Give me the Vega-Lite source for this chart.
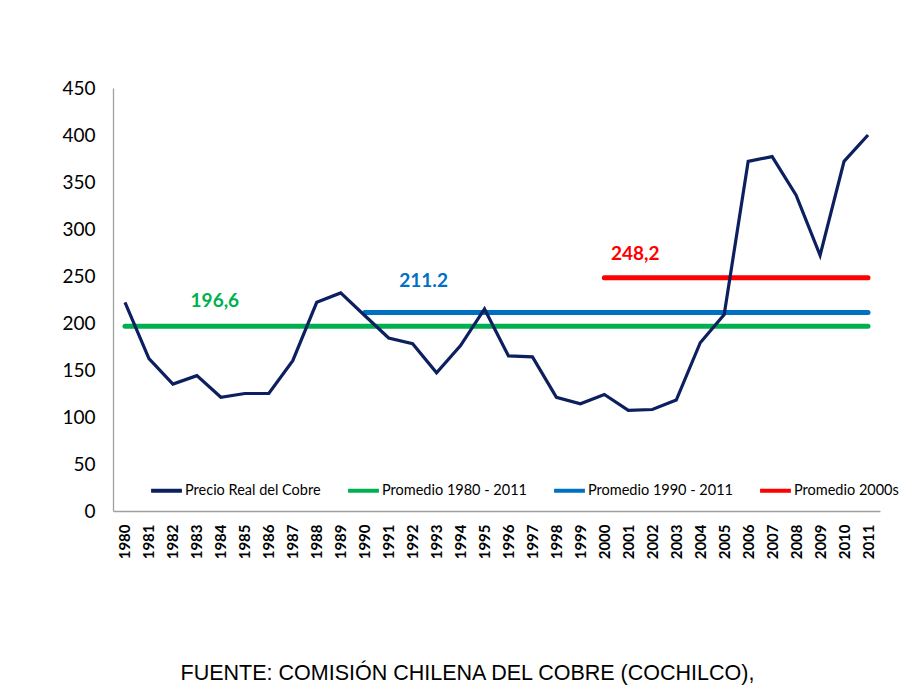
{
  "$schema": "https://vega.github.io/schema/vega-lite/v6.json",
  "autosize": {"type": "none"},
  "padding": {"left": 113, "top": 88, "right": 32, "bottom": 183},
  "width": 767,
  "height": 423,
  "background": "white",
  "config": {"view": {"stroke": null}, "font": "Lato"},
  "title": {
    "text": "FUENTE: COMISIÓN CHILENA DEL COBRE (COCHILCO),",
    "orient": "bottom",
    "anchor": "middle",
    "font": "Liberation Sans",
    "fontSize": 21.5,
    "fontWeight": "normal",
    "color": "#000000",
    "offset": 104,
    "dx": -29
  },
  "datasets": {
    "precio": [
      {"year": "1980", "value": 222, "series": "Precio Real del Cobre"},
      {"year": "1981", "value": 162, "series": "Precio Real del Cobre"},
      {"year": "1982", "value": 135, "series": "Precio Real del Cobre"},
      {"year": "1983", "value": 144, "series": "Precio Real del Cobre"},
      {"year": "1984", "value": 121, "series": "Precio Real del Cobre"},
      {"year": "1985", "value": 125, "series": "Precio Real del Cobre"},
      {"year": "1986", "value": 125, "series": "Precio Real del Cobre"},
      {"year": "1987", "value": 160, "series": "Precio Real del Cobre"},
      {"year": "1988", "value": 222, "series": "Precio Real del Cobre"},
      {"year": "1989", "value": 232, "series": "Precio Real del Cobre"},
      {"year": "1990", "value": 208, "series": "Precio Real del Cobre"},
      {"year": "1991", "value": 184, "series": "Precio Real del Cobre"},
      {"year": "1992", "value": 178, "series": "Precio Real del Cobre"},
      {"year": "1993", "value": 147, "series": "Precio Real del Cobre"},
      {"year": "1994", "value": 176, "series": "Precio Real del Cobre"},
      {"year": "1995", "value": 215, "series": "Precio Real del Cobre"},
      {"year": "1996", "value": 165, "series": "Precio Real del Cobre"},
      {"year": "1997", "value": 164, "series": "Precio Real del Cobre"},
      {"year": "1998", "value": 121, "series": "Precio Real del Cobre"},
      {"year": "1999", "value": 114, "series": "Precio Real del Cobre"},
      {"year": "2000", "value": 124, "series": "Precio Real del Cobre"},
      {"year": "2001", "value": 107, "series": "Precio Real del Cobre"},
      {"year": "2002", "value": 108, "series": "Precio Real del Cobre"},
      {"year": "2003", "value": 118, "series": "Precio Real del Cobre"},
      {"year": "2004", "value": 179, "series": "Precio Real del Cobre"},
      {"year": "2005", "value": 209, "series": "Precio Real del Cobre"},
      {"year": "2006", "value": 372, "series": "Precio Real del Cobre"},
      {"year": "2007", "value": 377, "series": "Precio Real del Cobre"},
      {"year": "2008", "value": 336, "series": "Precio Real del Cobre"},
      {"year": "2009", "value": 272, "series": "Precio Real del Cobre"},
      {"year": "2010", "value": 372, "series": "Precio Real del Cobre"},
      {"year": "2011", "value": 400, "series": "Precio Real del Cobre"}
    ],
    "promedios": [
      {"year": "1980", "value": 196.6, "series": "Promedio 1980 - 2011"},
      {"year": "2011", "value": 196.6, "series": "Promedio 1980 - 2011"},
      {"year": "1990", "value": 211.2, "series": "Promedio 1990 - 2011"},
      {"year": "2011", "value": 211.2, "series": "Promedio 1990 - 2011"},
      {"year": "2000", "value": 248.2, "series": "Promedio 2000s"},
      {"year": "2011", "value": 248.2, "series": "Promedio 2000s"}
    ]
  },
  "layer": [
    {
      "data": {"name": "promedios"},
      "mark": {"type": "line", "strokeWidth": 5, "strokeCap": "round"},
      "encoding": {
        "x": {"field": "year", "type": "ordinal"},
        "y": {"field": "value", "type": "quantitative"},
        "color": {"field": "series", "type": "nominal"},
        "detail": {"field": "series"}
      }
    },
    {
      "data": {"name": "precio"},
      "mark": {"type": "line", "strokeWidth": 3.2, "strokeJoin": "miter"},
      "encoding": {
        "x": {
          "field": "year",
          "type": "ordinal",
          "scale": {"type": "point", "padding": 0.5},
          "sort": null,
          "axis": {
            "title": null,
            "labelAngle": 270,
            "labelFont": "Lato",
            "labelFontSize": 15,
            "labelFontWeight": "bold",
            "labelColor": "#000000",
            "labelPadding": 13,
            "ticks": false,
            "domainColor": "#a0a0a0",
            "domainWidth": 1.3
          }
        },
        "y": {
          "field": "value",
          "type": "quantitative",
          "scale": {"domain": [0, 450], "nice": false},
          "axis": {
            "title": null,
            "values": [0, 50, 100, 150, 200, 250, 300, 350, 400, 450],
            "grid": false,
            "ticks": false,
            "labelFont": "Lato",
            "labelFontSize": 19,
            "labelColor": "#000000",
            "labelPadding": 18,
            "domainColor": "#a0a0a0",
            "domainWidth": 1.3
          }
        },
        "color": {
          "field": "series",
          "type": "nominal",
          "scale": {
            "domain": ["Precio Real del Cobre", "Promedio 1980 - 2011", "Promedio 1990 - 2011", "Promedio 2000s"],
            "range": ["#0c1f5e", "#00b050", "#0070c0", "#ff0000"]
          },
          "legend": {
            "title": null,
            "orient": "none",
            "direction": "horizontal",
            "legendX": 36,
            "legendY": 385,
            "symbolType": "stroke",
            "symbolStrokeWidth": 4,
            "symbolSize": 950,
            "labelFont": "Lato",
            "labelFontSize": 14.5,
            "labelColor": "#000000",
            "labelOffset": 1,
            "columnPadding": 19,
            "symbolOffset": 0
          }
        }
      }
    },
    {
      "data": {"values": [{"year": "1984", "value": 196.6, "label": "196,6"}]},
      "mark": {"type": "text", "color": "#00b050", "font": "Lato", "fontWeight": "bold", "fontSize": 19, "dy": -25, "dx": -6},
      "encoding": {
        "x": {"field": "year", "type": "ordinal"},
        "y": {"field": "value", "type": "quantitative"},
        "text": {"field": "label"}
      }
    },
    {
      "data": {"values": [{"year": "1992", "value": 211.2, "label": "211.2"}]},
      "mark": {"type": "text", "color": "#0070c0", "font": "Lato", "fontWeight": "bold", "fontSize": 19, "dy": -31, "dx": 11},
      "encoding": {
        "x": {"field": "year", "type": "ordinal"},
        "y": {"field": "value", "type": "quantitative"},
        "text": {"field": "label"}
      }
    },
    {
      "data": {"values": [{"year": "2001", "value": 248.2, "label": "248,2"}]},
      "mark": {"type": "text", "color": "#ff0000", "font": "Lato", "fontWeight": "bold", "fontSize": 19, "dy": -24, "dx": 7},
      "encoding": {
        "x": {"field": "year", "type": "ordinal"},
        "y": {"field": "value", "type": "quantitative"},
        "text": {"field": "label"}
      }
    }
  ]
}
